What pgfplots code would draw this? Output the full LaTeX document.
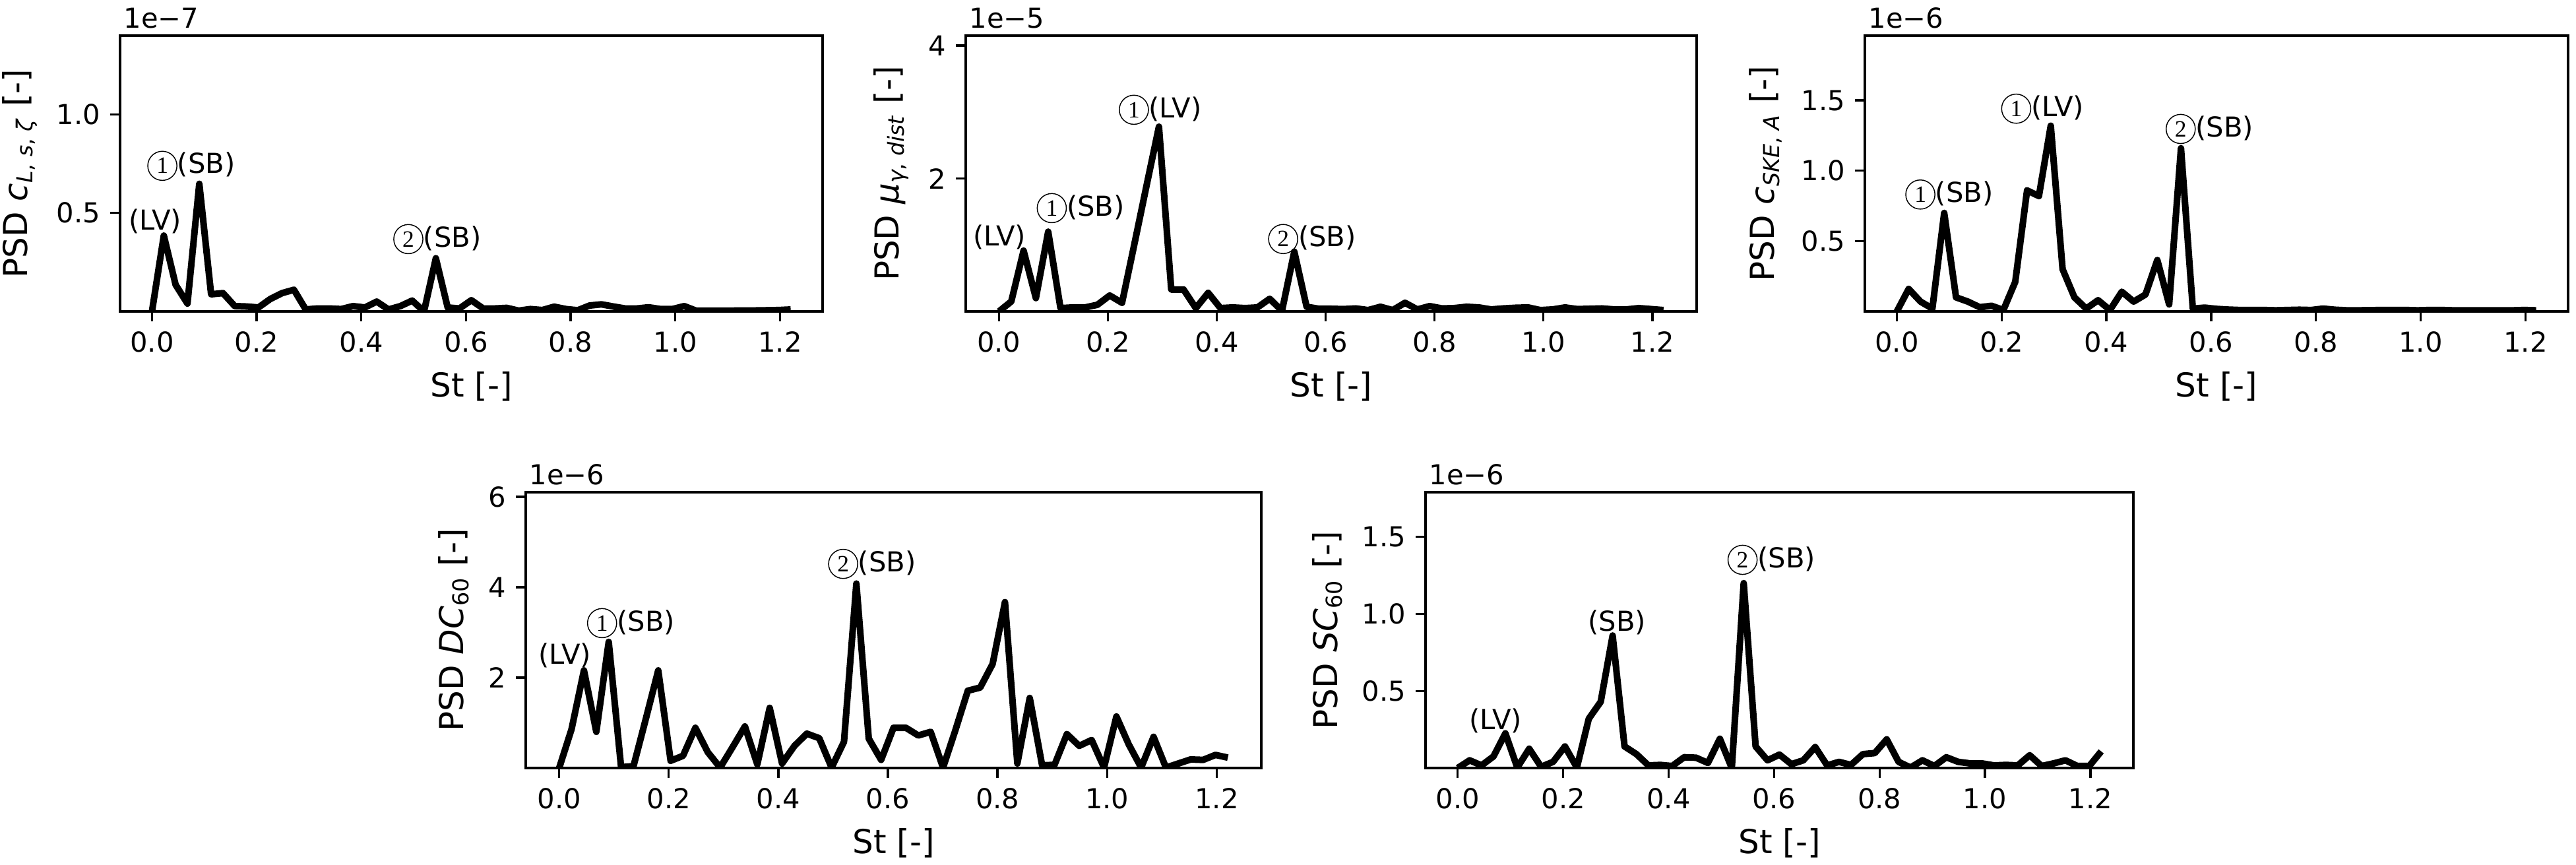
\documentclass[border=0pt]{standalone}
\usepackage{fontspec}
\setmainfont{DejaVu Sans}
\newfontfamily\serifnum{Liberation Serif}
\usepackage{pgfplots}
\usepackage{pgfplotstable}
\pgfplotsset{compat=1.18}

\newcommand\circnum[1]{\tikz[baseline=(c.base)]\node[circle,draw,line width=0.35pt,inner sep=0pt,minimum size=10.6pt,anchor=center](c){\serifnum\fontsize{8.5}{9}\selectfont #1};}

\pgfplotstableread{
x a b c d e
0.0000 0 0 0 0 0
0.0226 0.385 0.15 0.16 0.86 0.05
0.0452 0.135 0.915 0.07 2.16 0.017
0.0678 0.04 0.2 0.02 0.8 0.075
0.0904 0.648 1.2 0.70 2.79 0.225
0.1130 0.087 0.05 0.1 0.02 0.003
0.1356 0.093 0.06 0.07 0.04 0.125
0.1582 0.027 0.06 0.03 1.09 0.008
0.1808 0.025 0.1 0.04 2.16 0.04
0.2034 0.02 0.24 0.01 0.16 0.14
0.2260 0.063 0.13 0.21 0.27 0.003
0.2486 0.093 1.01 0.86 0.89 0.32
0.2712 0.11 1.9 0.82 0.35 0.43
0.2938 0.01 2.78 1.32 0.01 0.86
0.3164 0.015 0.33 0.30 0.46 0.14
0.3390 0.015 0.33 0.1 0.92 0.09
0.3616 0.012 0.05 0.02 0.08 0.017
0.3842 0.027 0.28 0.08 1.33 0.02
0.4068 0.02 0.05 0.01 0.1 0.013
0.4294 0.05 0.06 0.14 0.49 0.07
0.4520 0.01 0.05 0.07 0.76 0.067
0.4746 0.027 0.06 0.12 0.66 0.033
0.4972 0.055 0.19 0.365 0.01 0.19
0.5198 0.0 0.01 0.05 0.58 0.0
0.5424 0.27 0.9 1.16 4.08 1.2
0.5650 0.02 0.07 0.02 0.65 0.14
0.5876 0.015 0.04 0.027 0.18 0.05
0.6102 0.057 0.04 0.018 0.89 0.087
0.6328 0.015 0.035 0.013 0.89 0.025
0.6554 0.015 0.045 0.01 0.72 0.05
0.6780 0.018 0.02 0.01 0.8 0.136
0.7006 0.004 0.07 0.01 0.01 0.017
0.7232 0.012 0.02 0.008 0.84 0.04
0.7458 0.007 0.13 0.01 1.71 0.02
0.7684 0.024 0.03 0.012 1.78 0.09
0.7910 0.012 0.08 0.01 2.3 0.097
0.8136 0.006 0.045 0.02 3.67 0.186
0.8362 0.03 0.05 0.012 0.1 0.04
0.8588 0.036 0.07 0.008 1.55 0.003
0.8814 0.025 0.06 0.008 0.06 0.05
0.9040 0.015 0.03 0.009 0.07 0.013
0.9266 0.015 0.045 0.01 0.75 0.07
0.9492 0.021 0.055 0.01 0.49 0.04
0.9718 0.012 0.06 0.01 0.62 0.03
0.9944 0.012 0.02 0.008 0.01 0.03
1.0170 0.027 0.03 0.01 1.14 0.017
1.0396 0.004 0.06 0.01 0.52 0.02
1.0622 0.004 0.035 0.008 0.01 0.017
1.0848 0.004 0.04 0.008 0.69 0.083
1.1074 0.004 0.045 0.008 0.01 0.013
1.1300 0.005 0.03 0.008 0.1 0.03
1.1526 0.005 0.03 0.008 0.19 0.05
1.1752 0.006 0.05 0.008 0.18 0.013
1.1978 0.007 0.035 0.01 0.29 0.013
1.2204 0.01 0.02 0.008 0.23 0.108
}\psddata

\pgfplotsset{
  psd/.style={
    scale only axis, anchor=south west,
    xmin=-0.061, xmax=1.2814, ymin=0,
    xtick={0,0.2,0.4,0.6,0.8,1.0,1.2},
    xticklabels={0.0,0.2,0.4,0.6,0.8,1.0,1.2},
    tick align=outside, tick pos=left,
    major tick length=3.5pt,
    line width=0.8pt,
    tick style={black, line width=0.8pt},
    tick label style={font=\fontsize{10}{12}\selectfont},
    label style={font=\fontsize{12}{14}\selectfont},
    /pgf/number format/assume math mode=true,
    xlabel={St [-]},
    clip mode=individual,
    height=100.32pt,
  },
}
\tikzset{
  psdline/.style={black, line width=2.4pt, line join=round},
  ann/.style={anchor=south, inner sep=0pt, font=\fontsize{10}{12}\selectfont},
  offs/.style={anchor=base west, inner sep=0pt, xshift=1pt, yshift=2.8pt, font=\fontsize{10}{12}\selectfont},
}

\begin{document}
\begin{tikzpicture}
\useasboundingbox (0,0) rectangle (937.2pt,314.4pt);

% Panel 1
\begin{axis}[psd, at={(43.68pt,201.12pt)}, width=255.6pt,
  ymax=1.4, ytick={0.5,1.0}, yticklabels={0.5,1.0},
  ylabel={PSD \textit{c}\textsubscript{\textit{L}, \textit{s}, \textit{ζ}} [-]}]
\addplot[psdline, no markers] table[x=x, y=a] {\psddata};
\node[ann] at (axis cs:0.006,0.39) {(LV)};
\node[ann] at (axis cs:0.075,0.66) {\circnum{1}(SB)};
\node[ann] at (axis cs:0.545,0.288) {\circnum{2}(SB)};
\node[offs] at (rel axis cs:0,1) {1e−7};
\end{axis}

% Panel 2
\begin{axis}[psd, at={(351.36pt,201.12pt)}, width=265.92pt,
  ymax=4.15, ytick={2,4}, yticklabels={2,4},
  ylabel={PSD \textit{μ}\textsubscript{\textit{γ}, \textit{dist}} [-]}]
\addplot[psdline, no markers] table[x=x, y=b] {\psddata};
\node[ann] at (axis cs:0.001,0.92) {(LV)};
\node[ann] at (axis cs:0.15,1.32) {\circnum{1}(SB)};
\node[ann] at (axis cs:0.296,2.8) {\circnum{1}(LV)};
\node[ann] at (axis cs:0.575,0.855) {\circnum{2}(SB)};
\node[offs] at (rel axis cs:0,1) {1e−5};
\end{axis}

% Panel 3
\begin{axis}[psd, at={(678.48pt,201.12pt)}, width=255.84pt,
  ymax=1.96, ytick={0.5,1.0,1.5}, yticklabels={0.5,1.0,1.5},
  ylabel={PSD \textit{c}\textsubscript{\textit{SKE}, \textit{A}} [-]}]
\addplot[psdline, no markers] table[x=x, y=c] {\psddata};
\node[ann] at (axis cs:0.10,0.72) {\circnum{1}(SB)};
\node[ann] at (axis cs:0.278,1.33) {\circnum{1}(LV)};
\node[ann] at (axis cs:0.597,1.186) {\circnum{2}(SB)};
\node[offs] at (rel axis cs:0,1) {1e−6};
\end{axis}

% Panel 4
\begin{axis}[psd, at={(191.28pt,35.04pt)}, width=267.6pt,
  ymax=6.1, ytick={2,4,6}, yticklabels={2,4,6},
  ylabel={PSD \textit{DC}\textsubscript{60} [-]}]
\addplot[psdline, no markers] table[x=x, y=d] {\psddata};
\node[ann] at (axis cs:0.01,2.2) {(LV)};
\node[ann] at (axis cs:0.131,2.86) {\circnum{1}(SB)};
\node[ann] at (axis cs:0.571,4.17) {\circnum{2}(SB)};
\node[offs] at (rel axis cs:0,1) {1e−6};
\end{axis}

% Panel 5
\begin{axis}[psd, at={(518.64pt,35.04pt)}, width=257.52pt,
  ymax=1.79, ytick={0.5,1.0,1.5}, yticklabels={0.5,1.0,1.5},
  ylabel={PSD \textit{SC}\textsubscript{60} [-]}]
\addplot[psdline, no markers] table[x=x, y=e] {\psddata};
\node[ann] at (axis cs:0.072,0.22) {(LV)};
\node[ann] at (axis cs:0.302,0.86) {(SB)};
\node[ann] at (axis cs:0.595,1.25) {\circnum{2}(SB)};
\node[offs] at (rel axis cs:0,1) {1e−6};
\end{axis}
\end{tikzpicture}
\end{document}
